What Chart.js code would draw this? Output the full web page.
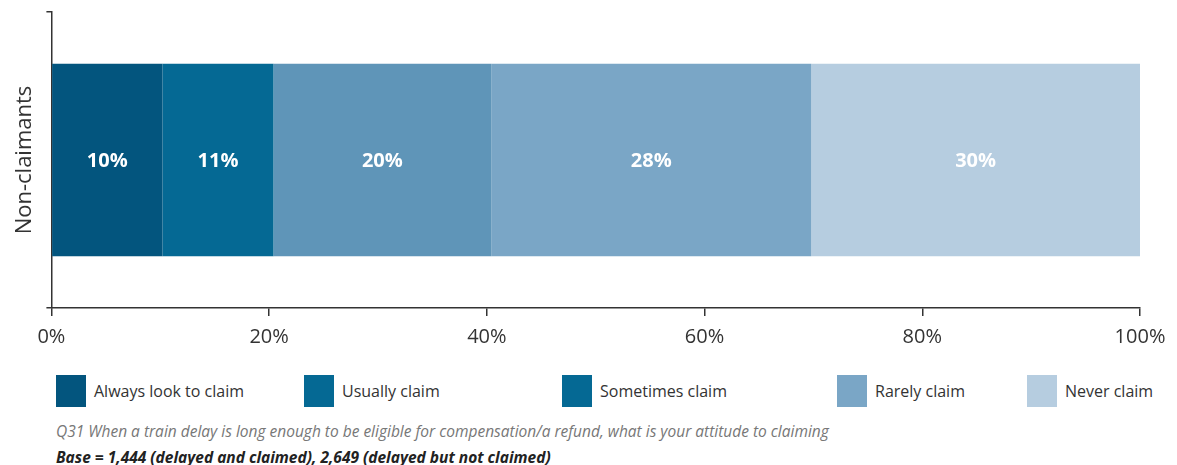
<!DOCTYPE html>
<html lang="en">
<head>
    <meta charset="UTF-8">
    <title>Attitude to claiming</title>
    <script src="https://cdn.jsdelivr.net/npm/chart.js"></script>
    <style>
        body {
            margin: 0;
            background: #ffffff;
            font-family: "Open Sans", sans-serif;
        }
        .wrap {
            position: relative;
            width: 1177px;
            height: 465px;
        }
        .chart-box {
            position: absolute;
            left: 0;
            top: 0;
            width: 1177px;
            height: 362px;
        }
        .legend-item {
            position: absolute;
            top: 375px;
            display: flex;
            align-items: center;
            font-size: 16px;
            color: #333;
        }
        .legend-item .swatch {
            width: 30px;
            height: 32px;
            margin-right: 8px;
        }
        .note {
            position: absolute;
            left: 56px;
            font-size: 15.5px;
            font-style: italic;
        }
        .note1 { top: 420px; color: #777; }
        .note2 { top: 446px; color: #222; font-weight: bold; }
    </style>
</head>
<body>
    <div class="wrap">
        <div class="chart-box"><canvas id="claimChart"></canvas></div>
        <div id="legend"></div>
        <div class="note note1">Q31 When a train delay is long enough to be eligible for compensation/a refund, what is your attitude to claiming</div>
        <div class="note note2">Base = 1,444 (delayed and claimed), 2,649 (delayed but not claimed)</div>
    </div>
    <script>
        // data
        const categories = ["Non-claimants"];
        const seriesNames = ["Always look to claim", "Usually claim", "Sometimes claim", "Rarely claim", "Never claim"];
        const seriesValues = [10.2, 10.2, 20.0, 29.4, 30.2];
        const valueLabels = ["10%", "11%", "20%", "28%", "30%"];
        const xTicks = [0, 20, 40, 60, 80, 100];

        const barColors = ["#03557e", "#056994", "#5f95b8", "#7aa6c6", "#b6cde0"];
        // the legend in the original reuses the "usually" colour for "sometimes"
        const legendColors = ["#03557e", "#056994", "#056994", "#7aa6c6", "#b6cde0"];
        const legendLeft = [56, 304, 562, 837, 1027];

        const datasets = seriesNames.map((name, i) => ({
            label: name,
            data: [seriesValues[i]],
            backgroundColor: barColors[i],
            borderWidth: 0,
            barPercentage: 0.65,
            categoryPercentage: 1
        }));

        const barLabels = {
            id: "barLabels",
            afterDatasetsDraw(chart) {
                const ctx = chart.ctx;
                ctx.save();
                ctx.font = "bold 20px 'Open Sans'";
                ctx.fillStyle = "#ffffff";
                ctx.textAlign = "center";
                ctx.textBaseline = "middle";
                chart.data.datasets.forEach((ds, i) => {
                    const el = chart.getDatasetMeta(i).data[0];
                    const p = el.getProps(["x", "y", "base"], true);
                    ctx.fillText(valueLabels[i], (p.x + p.base) / 2, p.y + 1);
                });
                ctx.restore();
            }
        };

        new Chart(document.getElementById("claimChart"), {
            type: "bar",
            data: { labels: categories, datasets },
            plugins: [barLabels],
            options: {
                indexAxis: "y",
                responsive: true,
                maintainAspectRatio: false,
                animation: false,
                layout: { padding: { left: 0, right: 37, top: 12, bottom: 4 } },
                plugins: {
                    legend: { display: false },
                    tooltip: { enabled: false }
                },
                scales: {
                    x: {
                        stacked: true,
                        min: 0,
                        max: 100,
                        afterBuildTicks: (axis) => {
                            axis.ticks = xTicks.map(v => ({ value: v }));
                        },
                        ticks: {
                            callback: (v) => v + "%",
                            color: "#333",
                            padding: 9,
                            font: { family: "Open Sans", size: 20 }
                        },
                        grid: {
                            drawOnChartArea: false,
                            drawTicks: true,
                            tickLength: 8,
                            color: "#333",
                            lineWidth: 1.5
                        },
                        border: { color: "#333", width: 1.5 }
                    },
                    y: {
                        stacked: true,
                        ticks: { display: false },
                        title: {
                            display: true,
                            text: categories[0],
                            color: "#333",
                            font: { family: "Open Sans", size: 22 },
                            padding: { top: 12, bottom: 8 }
                        },
                        grid: {
                            drawOnChartArea: false,
                            drawTicks: true,
                            tickLength: 5,
                            color: "#333",
                            lineWidth: 1.5
                        },
                        border: { color: "#333", width: 1.5 }
                    }
                }
            }
        });

        const legend = document.getElementById("legend");
        seriesNames.forEach((name, i) => {
            const item = document.createElement("div");
            item.className = "legend-item";
            item.style.left = legendLeft[i] + "px";
            item.innerHTML = `<span class="swatch" style="background:${legendColors[i]}"></span><span>${name}</span>`;
            legend.appendChild(item);
        });
    </script>
</body>
</html>
